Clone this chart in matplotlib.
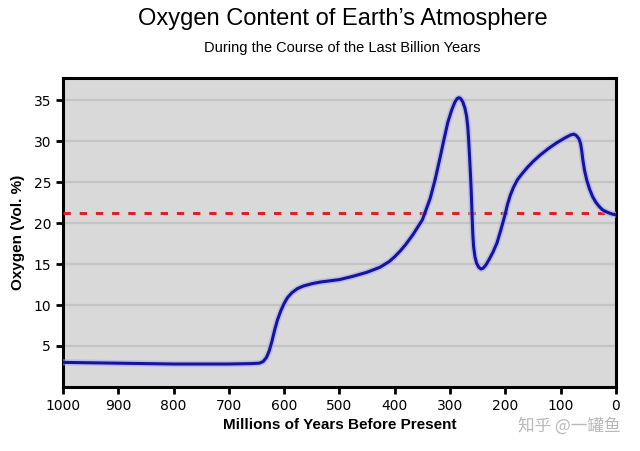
import matplotlib
matplotlib.use("Agg")
import matplotlib.pyplot as plt

# values (million years before present, vol. %)
years = [1000, 950, 900, 850, 800, 750, 700, 660, 645, 638, 632, 627, 622, 617,
         612, 606, 600, 594, 586, 576, 566, 550, 535, 500, 476, 450, 427, 410, 400,
         390, 380, 367, 350, 336, 327, 318, 311, 304, 297, 291, 287, 284, 281, 277, 273, 270,
         268, 266.5, 265, 263.5, 262, 261, 260, 259, 257.5, 255, 252, 248, 244, 240,
         235, 229, 222, 215, 208, 201, 196, 191, 185, 178, 170, 160, 150, 137, 122,
         107, 92, 82, 76, 72, 67, 64, 62, 60, 57, 53, 48, 42, 36, 30, 24, 15, 7, 0]
oxygen = [3.0, 2.95, 2.9, 2.85, 2.8, 2.8, 2.8, 2.85, 2.9, 3.1, 3.6, 4.4, 5.6, 7.0,
          8.2, 9.3, 10.2, 10.9, 11.5, 12.0, 12.3, 12.6, 12.8, 13.1, 13.5, 14.0, 14.6, 15.3, 15.9,
          16.6, 17.4, 18.6, 20.4, 23.0, 25.3, 28.0, 30.2, 32.3, 33.8, 34.8, 35.2, 35.3, 35.2, 34.8, 34.0, 33.0,
          31.8, 30.3, 28.5, 26.5, 24.4, 22.6, 20.7, 18.9, 17.2, 15.9, 15.1, 14.6, 14.4, 14.5,
          14.9, 15.6, 16.5, 17.6, 19.2, 20.9, 22.3, 23.4, 24.4, 25.3, 26.0, 26.8, 27.5, 28.3, 29.1,
          29.8, 30.4, 30.75, 30.85, 30.7, 30.3, 29.7, 28.9, 27.8, 26.5, 25.3, 24.2, 23.2, 22.5, 22.0,
          21.6, 21.3, 21.1, 21.0]
today_level = 21.2
xticks = [1000, 900, 800, 700, 600, 500, 400, 300, 200, 100, 0]
yticks = [5, 10, 15, 20, 25, 30, 35]

fig = plt.figure(figsize=(6.4, 4.51), dpi=100)
ax = fig.add_axes([0.0984, 0.142, 0.864, 0.685])
ax.set_facecolor("#d9d9d9")

ax.set_yticks(yticks)
ax.yaxis.grid(True, color="#c4c4c4", linewidth=1.6)
ax.set_axisbelow(True)

ax.plot([1000, 0], [today_level, today_level], color="#d92424", linewidth=2.2,
        dashes=(2.4, 2.9), zorder=3)
ax.plot(years, oxygen, color="#a8a8f0", linewidth=4.5, alpha=0.6, zorder=4,
        solid_capstyle="round", solid_joinstyle="round")
ax.plot(years, oxygen, color="#1414a0", linewidth=2.2, zorder=5,
        solid_capstyle="round", solid_joinstyle="round")

ax.set_xlim(1000, 0)
ax.set_ylim(0, 37.7)
ax.set_xticks(xticks)
ax.set_xticklabels([str(t) for t in xticks])
ax.tick_params(axis="both", direction="out", length=5, width=2, labelsize=10,
               colors="black")
for s in ax.spines.values():
    s.set_linewidth(2.2)
    s.set_color("black")

lab = dict(family="Liberation Sans", fontsize=11, fontweight="bold")
ax.set_xlabel("Millions of Years Before Present", labelpad=4, **lab)
ax.set_ylabel("Oxygen (Vol. %)", labelpad=6, **lab)

fig.text(0.535, 0.958, "Oxygen Content of Earth\u2019s Atmosphere",
         family="Liberation Sans", fontsize=17, ha="center", va="center")
fig.text(0.535, 0.893, "During the Course of the Last Billion Years",
         family="Liberation Sans", fontsize=10.5, ha="center", va="center")
fig.text(0.97, 0.055, "知乎 @一罐鱼", family=["Noto Sans CJK SC", "DejaVu Sans"],
         fontsize=12, color="#b8b8b8", ha="right", va="center")

fig.savefig("out.png", dpi=100)
